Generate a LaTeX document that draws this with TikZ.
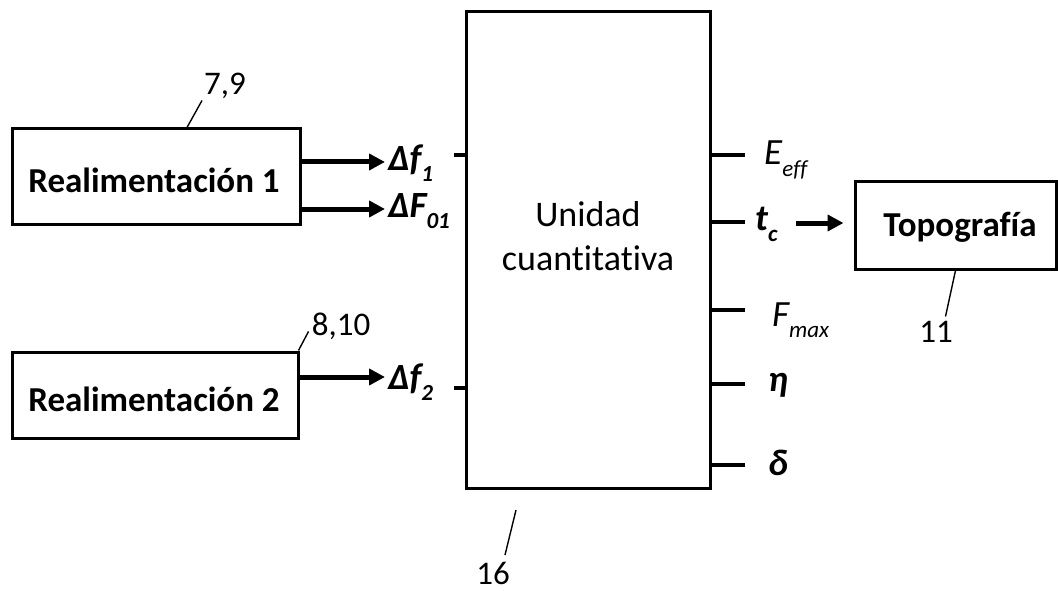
\documentclass[tikz,border=0pt]{standalone}
\usepackage{fontspec}
\setmainfont{Carlito}[Ligatures={NoCommon}]
\usetikzlibrary{arrows.meta,calc}
\newcommand\sbx[1]{\raisebox{-0.3em}{\fontsize{23}{23}\selectfont #1}}
\begin{document}
\begin{tikzpicture}[x=1pt,y=-1pt,
  box/.style={draw,line width=3pt,rectangle,inner sep=0pt},
  boxtxt/.style={font=\fontsize{35}{44}\selectfont\bfseries},
  arr/.style={line width=5pt,-{Triangle[length=16pt,width=16pt]}},
  tick/.style={line width=4pt},
  lbl/.style={font=\fontsize{37}{37}\selectfont\bfseries\itshape,anchor=west,inner sep=0pt},
  lblr/.style={font=\fontsize{37}{37}\selectfont\itshape,anchor=west,inner sep=0pt},
  num/.style={font=\fontsize{33}{33}\selectfont,inner sep=0pt},
  leader/.style={line width=1.4pt}]
\useasboundingbox (0,0) rectangle (1058,591);
\fill[white] (0,0) rectangle (1058,591);
% boxes
\node[box,minimum width=288pt,minimum height=95pt] (r1) at (156,176.5) {};
\node[boxtxt] (r1t) at (154,180) {Realimentación 1};
\node[box,minimum width=286pt,minimum height=86pt] (r2) at (155,395) {};
\node[boxtxt] (r2t) at (154,399) {Realimentación 2};
\node[box,minimum width=244pt,minimum height=476pt] (u) at (588,250) {};
\node[font=\fontsize{36}{44}\selectfont,align=center] (ut) at (588,236) {Unidad\\cuantitativa};
\node[box,minimum width=201pt,minimum height=87pt] (topo) at (955.5,225.5) {};
\node[boxtxt] (topot) at (960,227) {Topografía};
% input labels
\node[lbl] (df1) at (388,163) {Δf\sbx{1}};
\node[lbl] (dF01) at (388,211) {ΔF\sbx{01}};
\node[lbl] (df2) at (388,382) {Δf\sbx{2}};
% arrows from feedback boxes
\draw[arr] (r1.east |- 0,162) -- (385,162);
\draw[arr] (r1.east |- 0,209) -- (385,209);
\draw[arr] (r2.east |- 0,377) -- (385,377);
% input ticks
\draw[tick] (u.west |- 0,155) -- ++(-11,0);
\draw[tick] (u.west |- 0,388) -- ++(-11,0);
% output ticks
\draw[tick] (u.east |- 0,155) -- ++(33,0);
\draw[tick] (u.east |- 0,222) -- ++(33,0);
\draw[tick] (u.east |- 0,310) -- ++(33,0);
\draw[tick] (u.east |- 0,384) -- ++(33,0);
\draw[tick] (u.east |- 0,465) -- ++(33,0);
% output labels
\node[lblr] (eeff) at (764,160) {E\sbx{eff}};
\node[lbl] (tc) at (755,224) {t\sbx{c}};
\node[lblr] (fmax) at (772,320) {F\sbx{max}};
\node[lbl] (eta) at (768,385) {η};
\node[lbl] (delta) at (768,463) {δ};
\coordinate (tcs) at (796,223);
\path (tcs -| topo.west) ++(-10,0) coordinate (tce);
\draw[arr] (tcs) -- (tce);
% reference numerals
\node[num] (n79) at (225,86) {7,9};
\draw[leader] ($(r1.north)+(31,0)$) -- ++(15,-27);
\node[num] (n810) at (341,326) {8,10};
\draw[leader] ($(r2.north east)+(-1,0)$) -- ++(10,-19);
\node[num] (n16) at (493,573) {16};
\draw[leader] (516,510) -- (505,555);
\node[num] (n11) at (936,332) {11};
\draw[leader] (topo.south) -- ++(-10,46);
\end{tikzpicture}
\end{document}
